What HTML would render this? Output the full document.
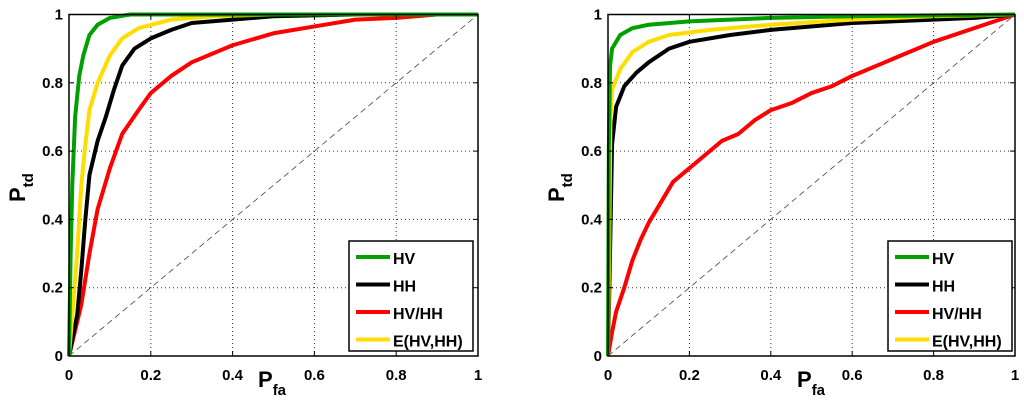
<!DOCTYPE html>
<html><head><meta charset="utf-8"><style>
body{margin:0;background:#fff;width:1024px;height:406px;overflow:hidden}
svg text{font-family:"Liberation Sans",sans-serif;font-weight:bold;fill:#000}
</style></head><body>
<svg id="svg" width="1024" height="406"></svg>
<script>
const xTicks=[0,0.2,0.4,0.6,0.8,1];
const yTicks=[0,0.2,0.4,0.6,0.8,1];
const tickLabels=["0","0.2","0.4","0.6","0.8","1"];
const seriesNames=["HV","HH","HV/HH","E(HV,HH)"];
const seriesColors=["#00a000","#000000","#ff0000","#ffdd00"];
const leftHV=[[0,0],[0.004,0.3],[0.008,0.5],[0.015,0.7],[0.025,0.82],[0.035,0.88],[0.05,0.94],[0.07,0.97],[0.1,0.99],[0.15,1],[1,1]];
const leftHH=[[0,0],[0.02,0.12],[0.03,0.25],[0.04,0.4],[0.05,0.53],[0.07,0.63],[0.09,0.7],[0.11,0.78],[0.13,0.85],[0.16,0.9],[0.2,0.93],[0.25,0.955],[0.3,0.975],[0.4,0.985],[0.5,0.995],[0.7,1],[1,1]];
const leftRatio=[[0,0],[0.03,0.15],[0.05,0.3],[0.07,0.43],[0.1,0.55],[0.13,0.65],[0.17,0.72],[0.2,0.77],[0.25,0.82],[0.3,0.86],[0.4,0.91],[0.5,0.945],[0.6,0.965],[0.7,0.985],[0.8,0.99],[0.9,1],[1,1]];
const leftE=[[0,0],[0.01,0.15],[0.02,0.3],[0.03,0.5],[0.04,0.62],[0.05,0.72],[0.07,0.8],[0.1,0.88],[0.13,0.93],[0.17,0.96],[0.25,0.985],[0.35,0.995],[0.5,1],[1,1]];
const rightHV=[[0,0],[0.002,0.6],[0.005,0.85],[0.01,0.9],[0.03,0.94],[0.06,0.96],[0.1,0.97],[0.2,0.98],[0.4,0.99],[0.6,0.995],[1,1]];
const rightHH=[[0,0],[0.005,0.3],[0.01,0.62],[0.02,0.73],[0.04,0.79],[0.07,0.83],[0.1,0.86],[0.15,0.9],[0.2,0.92],[0.3,0.94],[0.4,0.955],[0.6,0.975],[0.8,0.985],[0.9,0.99],[1,1]];
const rightRatio=[[0,0],[0.01,0.07],[0.02,0.13],[0.04,0.2],[0.06,0.28],[0.08,0.34],[0.1,0.39],[0.13,0.45],[0.16,0.51],[0.2,0.55],[0.25,0.6],[0.28,0.63],[0.32,0.65],[0.36,0.69],[0.4,0.72],[0.45,0.74],[0.5,0.77],[0.55,0.79],[0.6,0.82],[0.7,0.87],[0.8,0.92],[0.9,0.96],[1,1]];
const rightE=[[0,0],[0.003,0.3],[0.006,0.7],[0.01,0.78],[0.03,0.84],[0.06,0.89],[0.1,0.92],[0.15,0.94],[0.25,0.955],[0.4,0.97],[0.6,0.985],[0.8,0.995],[1,1]];

const NS="http://www.w3.org/2000/svg";
const svg=document.getElementById('svg');
function mk(tag,attrs,parent){const e=document.createElementNS(NS,tag);for(const k in attrs)e.setAttribute(k,attrs[k]);(parent||svg).appendChild(e);return e;}

function panel(id,x0,x1,series,lx){
  const y0=356,y1=14.5;
  const sx=v=>x0+v*(x1-x0), sy=v=>y0+v*(y1-y0);
  const g=mk('g',{});
  
  
  xTicks.forEach((t,i)=>{if(i>0&&i<xTicks.length-1){const l=mk('line',{x1:sx(t),x2:sx(t),y1:y0,y2:y1,stroke:'#333','stroke-width':1,'stroke-dasharray':'1,3'},g);}});
  yTicks.forEach((t,i)=>{if(i>0&&i<yTicks.length-1){const l=mk('line',{x1:x0,x2:x1,y1:sy(t),y2:sy(t),stroke:'#333','stroke-width':1,'stroke-dasharray':'1,3'},g);}});
  const d=mk('line',{x1:sx(0),y1:sy(0),x2:sx(1),y2:sy(1),stroke:'#444','stroke-width':0.8,'stroke-dasharray':'6,4'},g);
  
  const order=[2,1,3,0];
  order.forEach(i=>{
    const p=mk('polyline',{points:series[i].map(q=>sx(q[0])+','+sy(q[1])).join(' '),fill:'none',stroke:seriesColors[i],'stroke-width':4,'stroke-linejoin':'round'},g);
    
    
  });
  const b=mk('rect',{x:x0,y:y1,width:x1-x0,height:y0-y1,fill:'none',stroke:'#000','stroke-width':1.5},g);
  
  xTicks.forEach((t,i)=>{
    mk('line',{x1:sx(t),x2:sx(t),y1:y0,y2:y0-5,stroke:'#000'},g);
    mk('line',{x1:sx(t),x2:sx(t),y1:y1,y2:y1+5,stroke:'#000'},g);
    const tx=mk('text',{x:sx(t),y:380,'font-size':15,'text-anchor':'middle'},g);tx.textContent=tickLabels[i];
    
  });
  yTicks.forEach((t,i)=>{
    mk('line',{x1:x0,x2:x0+5,y1:sy(t),y2:sy(t),stroke:'#000'},g);
    mk('line',{x1:x1,x2:x1-5,y1:sy(t),y2:sy(t),stroke:'#000'},g);
    const tx=mk('text',{x:x0-6,y:sy(t)+5,'font-size':15,'text-anchor':'end'},g);tx.textContent=tickLabels[i];
    
  });
  const xt=mk('text',{x:x0+189,y:387,'font-size':22},g);
  xt.innerHTML='P<tspan font-size="15" dy="8">fa</tspan>';
  
  const yt=mk('text',{transform:`translate(${x0-44},202) rotate(-90)`,'font-size':22},g);
  yt.innerHTML='P<tspan font-size="15" dy="8">td</tspan>';
  
  const lg=mk('g',{},g);
  
  mk('rect',{x:lx,y:241,width:124,height:110,fill:'#fff',stroke:'#000','stroke-width':1.5},lg);
  seriesNames.forEach((n,i)=>{
    const yy=257+i*27.5;
    const e=mk('g',{},lg);
    
    mk('line',{x1:lx+7,x2:lx+41,y1:yy,y2:yy,stroke:seriesColors[i],'stroke-width':4},e);
    const t=mk('text',{x:lx+44,y:yy+7,'font-size':16},e);t.textContent=n;
  });
}
panel('left-roc-chart',69,478,[leftHV,leftHH,leftRatio,leftE],349);
panel('right-roc-chart',608,1015,[rightHV,rightHH,rightRatio,rightE],888);
</script>
</body></html>
